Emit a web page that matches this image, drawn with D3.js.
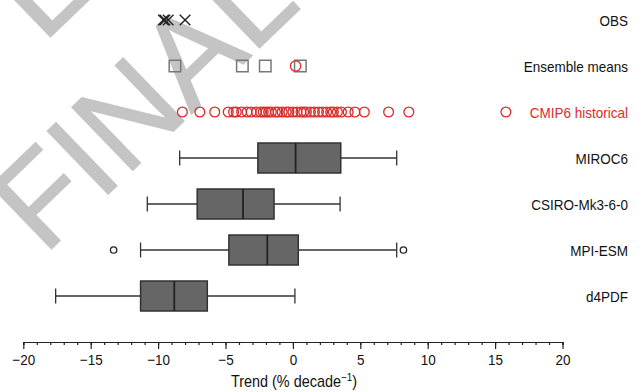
<!DOCTYPE html>
<html lang="en">
<head>
<meta charset="UTF-8">
<title>Trend boxplots</title>
<script src="https://d3js.org/d3.v7.min.js"></script>
<style>
    body { margin: 0; background: #fff; }
    svg { display: block; font-family: "Liberation Sans", Arial, sans-serif; }
    .watermark { fill: #c4c4c4; stroke: #c4c4c4; stroke-width: 1.5; font-size: 127px; }
    .row-label { font-size: 15px; fill: #111; }
    .axis text { font-size: 15px; fill: #111; }
    .axis line, .axis path { stroke: #222; stroke-width: 1.2; }
</style>
</head>
<body>
<script>
// rows, top to bottom
var rows = ["OBS", "Ensemble means", "CMIP6 historical", "MIROC6", "CSIRO-Mk3-6-0", "MPI-ESM", "d4PDF"];

var obsTrends = [-9.6, -9.5, -9.25, -8.0];
var ensembleMeans = [-8.75, -3.75, -2.05, 0.55];
var cmip6EnsembleMean = [0.2];
var cmip6Trends = [-8.2, -6.9, -5.8, -4.8, -4.4, -4.2, -3.8, -3.4, -3.1, -2.7, -2.4, -2.2,
    -2.0, -1.8, -1.6, -1.3, -1.1, -0.8, -0.5, -0.3, 0.0, 0.3, 0.6, 0.8, 1.0, 1.3, 1.6,
    1.9, 2.2, 2.5, 2.8, 3.0, 3.3, 3.6, 4.1, 4.6, 5.3, 7.1, 8.6, 15.8];

// box statistics: whisker low, q1, median, q3, whisker high
var boxModels = ["MIROC6", "CSIRO-Mk3-6-0", "MPI-ESM", "d4PDF"];
var boxLow = [-8.4, -10.8, -11.3, -17.6];
var boxQ1 = [-2.6, -7.1, -4.75, -11.3];
var boxMedian = [0.2, -3.7, -1.9, -8.8];
var boxQ3 = [3.55, -1.4, 0.4, -6.35];
var boxHigh = [7.7, 3.5, 7.7, 0.15];
var boxOutliers = [[], [], [-13.3, 8.2], []];

var xTicks = [-20, -15, -10, -5, 0, 5, 10, 15, 20];

var width = 642, height = 392;

var svg = d3.select("body").append("svg")
    .attr("width", width)
    .attr("height", height);

var x = d3.scaleLinear().domain([-20, 20]).range([23.3, 562.5]);
var y = d3.scalePoint().domain(rows).range([20, 296]);

// watermark behind everything
svg.append("text")
    .attr("class", "watermark")
    .attr("transform", "translate(44,256) rotate(-44)")
    .text("FINAL");
// corner of a second, mostly off-page watermark
svg.append("text")
    .attr("class", "watermark")
    .attr("transform", "translate(43,44) rotate(-44)")
    .text("L");

// boxes
var boxes = boxModels.map(function(m, i) {
    return { model: m, low: boxLow[i], q1: boxQ1[i], med: boxMedian[i], q3: boxQ3[i], high: boxHigh[i], out: boxOutliers[i] };
});
var boxH = 30, capH = 15;

var g = svg.selectAll(".box").data(boxes).enter().append("g").attr("class", "box");

g.append("line")
    .attr("x1", function(d) { return x(d.low); })
    .attr("x2", function(d) { return x(d.high); })
    .attr("y1", function(d) { return y(d.model); })
    .attr("y2", function(d) { return y(d.model); })
    .attr("stroke", "#333").attr("stroke-width", 1.3);

g.selectAll(".cap").data(function(d) { return [d.low, d.high].map(function(v) { return { v: v, m: d.model }; }); })
    .enter().append("line")
    .attr("x1", function(d) { return x(d.v); })
    .attr("x2", function(d) { return x(d.v); })
    .attr("y1", function(d) { return y(d.m) - capH / 2; })
    .attr("y2", function(d) { return y(d.m) + capH / 2; })
    .attr("stroke", "#333").attr("stroke-width", 1.3);

g.append("rect")
    .attr("x", function(d) { return x(d.q1); })
    .attr("width", function(d) { return x(d.q3) - x(d.q1); })
    .attr("y", function(d) { return y(d.model) - boxH / 2; })
    .attr("height", boxH)
    .attr("fill", "#666").attr("stroke", "#333").attr("stroke-width", 1.5);

g.append("line")
    .attr("x1", function(d) { return x(d.med); })
    .attr("x2", function(d) { return x(d.med); })
    .attr("y1", function(d) { return y(d.model) - boxH / 2; })
    .attr("y2", function(d) { return y(d.model) + boxH / 2; })
    .attr("stroke", "#222").attr("stroke-width", 1.8);

g.selectAll(".outlier").data(function(d) { return d.out.map(function(v) { return { v: v, m: d.model }; }); })
    .enter().append("circle")
    .attr("cx", function(d) { return x(d.v); })
    .attr("cy", function(d) { return y(d.m); })
    .attr("r", 3.2)
    .attr("fill", "none").attr("stroke", "#222").attr("stroke-width", 1.3);

// CMIP6 individual members
svg.selectAll(".cmip").data(cmip6Trends).enter().append("circle")
    .attr("cx", function(d) { return x(d); })
    .attr("cy", y("CMIP6 historical"))
    .attr("r", 4.9)
    .attr("fill", "none").attr("stroke", "#dd2a2a").attr("stroke-width", 1.3);

// ensemble means (grey squares) and CMIP6 multi-model mean (red circle)
var sq = 11.5;
svg.selectAll(".ens").data(ensembleMeans).enter().append("rect")
    .attr("x", function(d) { return x(d) - sq / 2; })
    .attr("y", y("Ensemble means") - sq / 2)
    .attr("width", sq).attr("height", sq)
    .attr("fill", "none").attr("stroke", "#777").attr("stroke-width", 1.5);

svg.selectAll(".cmipmean").data(cmip6EnsembleMean).enter().append("circle")
    .attr("cx", function(d) { return x(d); })
    .attr("cy", y("Ensemble means"))
    .attr("r", 5.2)
    .attr("fill", "none").attr("stroke", "#dd2a2a").attr("stroke-width", 1.3);

// observations
var cr = 5.3;
var obs = svg.selectAll(".obs").data(obsTrends).enter().append("g")
    .attr("transform", function(d) { return "translate(" + x(d) + "," + y("OBS") + ")"; });
obs.append("line").attr("x1", -cr).attr("y1", -cr).attr("x2", cr).attr("y2", cr)
    .attr("stroke", "#222").attr("stroke-width", 1.4);
obs.append("line").attr("x1", -cr).attr("y1", cr).attr("x2", cr).attr("y2", -cr)
    .attr("stroke", "#222").attr("stroke-width", 1.4);

// row labels on the right
svg.selectAll(".row-label").data(rows).enter().append("text")
    .attr("class", "row-label")
    .attr("transform", function(d) { return "translate(628," + (y(d) + 5.5) + ") scale(0.9,1)"; })
    .attr("text-anchor", "end")
    .style("fill", function(d) { return d === "CMIP6 historical" ? "#dd2a2a" : "#111"; })
    .text(function(d) { return d; });

// x axis with minor ticks
var axisY = 342;
svg.append("g")
    .attr("class", "axis")
    .attr("transform", "translate(0," + axisY + ")")
    .call(d3.axisBottom(x).tickValues(d3.range(-20, 21, 1)).tickSize(3).tickFormat(""));

var ax = svg.append("g")
    .attr("class", "axis")
    .attr("transform", "translate(0," + axisY + ")")
    .call(d3.axisBottom(x).tickValues(xTicks).tickSize(7).tickSizeOuter(0)
        .tickFormat(function(d) { return d < 0 ? "\u2212" + Math.abs(d) : d; }));
ax.selectAll("text")
    .attr("y", 12)
    .attr("transform", "scale(0.9,1)");

// axis title
var title = svg.append("text")
    .attr("transform", "translate(294,387) scale(0.9,1)")
    .attr("text-anchor", "middle")
    .style("font-size", "16px")
    .style("fill", "#111");
title.append("tspan").text("Trend (% decade");
title.append("tspan").attr("dy", -6).style("font-size", "11px").text("\u22121");
title.append("tspan").attr("dy", 6).text(")");
</script>
</body>
</html>
